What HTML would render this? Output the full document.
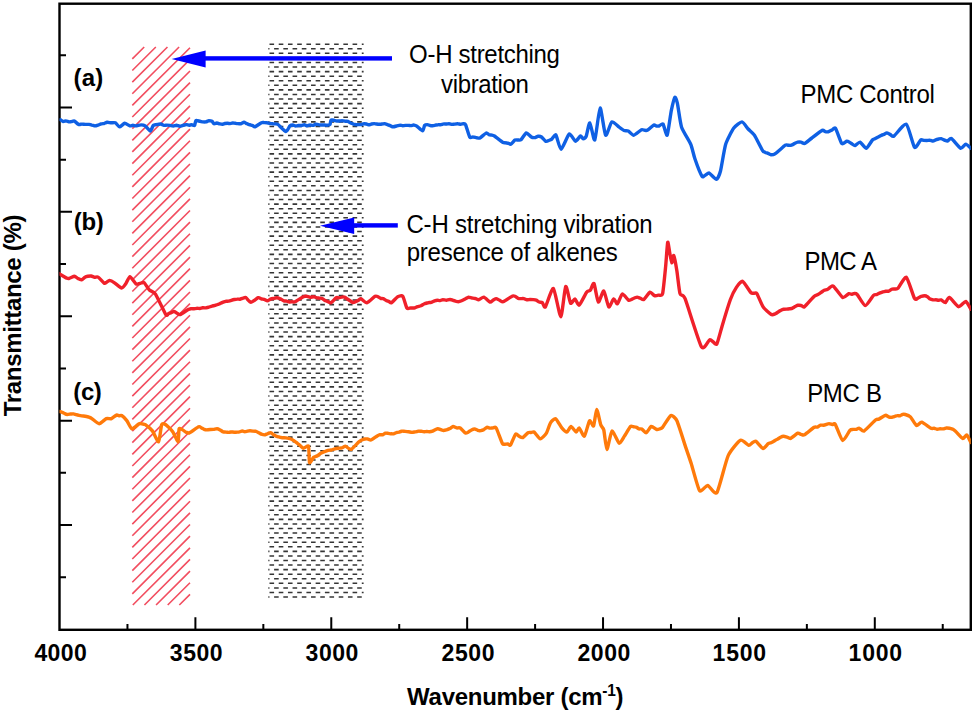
<!DOCTYPE html>
<html><head><meta charset="utf-8"><style>
html,body{margin:0;padding:0;background:#fff;width:975px;height:713px;overflow:hidden}
svg{display:block}
text{font-family:"Liberation Sans", sans-serif;fill:#000}
</style></head><body>
<svg width="975" height="713" viewBox="0 0 975 713">
<path d="M132.30 58.90L144.20 47.00M132.30 70.53L155.83 47.00M132.30 82.16L167.46 47.00M132.30 93.79L179.09 47.00M132.30 105.42L190.00 47.72M132.30 117.05L190.00 59.35M132.30 128.68L190.00 70.98M132.30 140.31L190.00 82.61M132.30 151.94L190.00 94.24M132.30 163.57L190.00 105.87M132.30 175.20L190.00 117.50M132.30 186.83L190.00 129.13M132.30 198.46L190.00 140.76M132.30 210.09L190.00 152.39M132.30 221.72L190.00 164.02M132.30 233.35L190.00 175.65M132.30 244.98L190.00 187.28M132.30 256.61L190.00 198.91M132.30 268.24L190.00 210.54M132.30 279.87L190.00 222.17M132.30 291.50L190.00 233.80M132.30 303.13L190.00 245.43M132.30 314.76L190.00 257.06M132.30 326.39L190.00 268.69M132.30 338.02L190.00 280.32M132.30 349.65L190.00 291.95M132.30 361.28L190.00 303.58M132.30 372.91L190.00 315.21M132.30 384.54L190.00 326.84M132.30 396.17L190.00 338.47M132.30 407.80L190.00 350.10M132.30 419.43L190.00 361.73M132.30 431.06L190.00 373.36M132.30 442.69L190.00 384.99M132.30 454.32L190.00 396.62M132.30 465.95L190.00 408.25M132.30 477.58L190.00 419.88M132.30 489.21L190.00 431.51M132.30 500.84L190.00 443.14M132.30 512.47L190.00 454.77M132.30 524.10L190.00 466.40M132.30 535.73L190.00 478.03M132.30 547.36L190.00 489.66M132.30 558.99L190.00 501.29M132.30 570.62L190.00 512.92M132.30 582.25L190.00 524.55M132.30 593.88L190.00 536.18M132.81 605.00L190.00 547.81M144.44 605.00L190.00 559.44M156.07 605.00L190.00 571.07M167.70 605.00L190.00 582.70M179.33 605.00L190.00 594.33" stroke="#f24e60" stroke-width="1.6" fill="none"/>
<path d="M269.50 44.20H274.10M278.73 44.20H283.33M287.96 44.20H292.56M297.19 44.20H301.79M306.42 44.20H311.02M315.65 44.20H320.25M324.88 44.20H329.48M334.11 44.20H338.71M343.34 44.20H347.94M352.57 44.20H357.17M361.80 44.20H363.60M268.30 48.77H269.47M274.10 48.77H278.70M283.33 48.77H287.93M292.56 48.77H297.16M301.79 48.77H306.39M311.02 48.77H315.62M320.25 48.77H324.85M329.48 48.77H334.08M338.71 48.77H343.31M347.94 48.77H352.54M357.17 48.77H361.77M269.50 53.34H274.10M278.73 53.34H283.33M287.96 53.34H292.56M297.19 53.34H301.79M306.42 53.34H311.02M315.65 53.34H320.25M324.88 53.34H329.48M334.11 53.34H338.71M343.34 53.34H347.94M352.57 53.34H357.17M361.80 53.34H363.60M268.30 57.91H269.47M274.10 57.91H278.70M283.33 57.91H287.93M292.56 57.91H297.16M301.79 57.91H306.39M311.02 57.91H315.62M320.25 57.91H324.85M329.48 57.91H334.08M338.71 57.91H343.31M347.94 57.91H352.54M357.17 57.91H361.77M269.50 62.48H274.10M278.73 62.48H283.33M287.96 62.48H292.56M297.19 62.48H301.79M306.42 62.48H311.02M315.65 62.48H320.25M324.88 62.48H329.48M334.11 62.48H338.71M343.34 62.48H347.94M352.57 62.48H357.17M361.80 62.48H363.60M268.30 67.05H269.47M274.10 67.05H278.70M283.33 67.05H287.93M292.56 67.05H297.16M301.79 67.05H306.39M311.02 67.05H315.62M320.25 67.05H324.85M329.48 67.05H334.08M338.71 67.05H343.31M347.94 67.05H352.54M357.17 67.05H361.77M269.50 71.61H274.10M278.73 71.61H283.33M287.96 71.61H292.56M297.19 71.61H301.79M306.42 71.61H311.02M315.65 71.61H320.25M324.88 71.61H329.48M334.11 71.61H338.71M343.34 71.61H347.94M352.57 71.61H357.17M361.80 71.61H363.60M268.30 76.18H269.47M274.10 76.18H278.70M283.33 76.18H287.93M292.56 76.18H297.16M301.79 76.18H306.39M311.02 76.18H315.62M320.25 76.18H324.85M329.48 76.18H334.08M338.71 76.18H343.31M347.94 76.18H352.54M357.17 76.18H361.77M269.50 80.75H274.10M278.73 80.75H283.33M287.96 80.75H292.56M297.19 80.75H301.79M306.42 80.75H311.02M315.65 80.75H320.25M324.88 80.75H329.48M334.11 80.75H338.71M343.34 80.75H347.94M352.57 80.75H357.17M361.80 80.75H363.60M268.30 85.32H269.47M274.10 85.32H278.70M283.33 85.32H287.93M292.56 85.32H297.16M301.79 85.32H306.39M311.02 85.32H315.62M320.25 85.32H324.85M329.48 85.32H334.08M338.71 85.32H343.31M347.94 85.32H352.54M357.17 85.32H361.77M269.50 89.89H274.10M278.73 89.89H283.33M287.96 89.89H292.56M297.19 89.89H301.79M306.42 89.89H311.02M315.65 89.89H320.25M324.88 89.89H329.48M334.11 89.89H338.71M343.34 89.89H347.94M352.57 89.89H357.17M361.80 89.89H363.60M268.30 94.46H269.47M274.10 94.46H278.70M283.33 94.46H287.93M292.56 94.46H297.16M301.79 94.46H306.39M311.02 94.46H315.62M320.25 94.46H324.85M329.48 94.46H334.08M338.71 94.46H343.31M347.94 94.46H352.54M357.17 94.46H361.77M269.50 99.03H274.10M278.73 99.03H283.33M287.96 99.03H292.56M297.19 99.03H301.79M306.42 99.03H311.02M315.65 99.03H320.25M324.88 99.03H329.48M334.11 99.03H338.71M343.34 99.03H347.94M352.57 99.03H357.17M361.80 99.03H363.60M268.30 103.60H269.47M274.10 103.60H278.70M283.33 103.60H287.93M292.56 103.60H297.16M301.79 103.60H306.39M311.02 103.60H315.62M320.25 103.60H324.85M329.48 103.60H334.08M338.71 103.60H343.31M347.94 103.60H352.54M357.17 103.60H361.77M269.50 108.17H274.10M278.73 108.17H283.33M287.96 108.17H292.56M297.19 108.17H301.79M306.42 108.17H311.02M315.65 108.17H320.25M324.88 108.17H329.48M334.11 108.17H338.71M343.34 108.17H347.94M352.57 108.17H357.17M361.80 108.17H363.60M268.30 112.73H269.47M274.10 112.73H278.70M283.33 112.73H287.93M292.56 112.73H297.16M301.79 112.73H306.39M311.02 112.73H315.62M320.25 112.73H324.85M329.48 112.73H334.08M338.71 112.73H343.31M347.94 112.73H352.54M357.17 112.73H361.77M269.50 117.30H274.10M278.73 117.30H283.33M287.96 117.30H292.56M297.19 117.30H301.79M306.42 117.30H311.02M315.65 117.30H320.25M324.88 117.30H329.48M334.11 117.30H338.71M343.34 117.30H347.94M352.57 117.30H357.17M361.80 117.30H363.60M268.30 121.87H269.47M274.10 121.87H278.70M283.33 121.87H287.93M292.56 121.87H297.16M301.79 121.87H306.39M311.02 121.87H315.62M320.25 121.87H324.85M329.48 121.87H334.08M338.71 121.87H343.31M347.94 121.87H352.54M357.17 121.87H361.77M269.50 126.44H274.10M278.73 126.44H283.33M287.96 126.44H292.56M297.19 126.44H301.79M306.42 126.44H311.02M315.65 126.44H320.25M324.88 126.44H329.48M334.11 126.44H338.71M343.34 126.44H347.94M352.57 126.44H357.17M361.80 126.44H363.60M268.30 131.01H269.47M274.10 131.01H278.70M283.33 131.01H287.93M292.56 131.01H297.16M301.79 131.01H306.39M311.02 131.01H315.62M320.25 131.01H324.85M329.48 131.01H334.08M338.71 131.01H343.31M347.94 131.01H352.54M357.17 131.01H361.77M269.50 135.58H274.10M278.73 135.58H283.33M287.96 135.58H292.56M297.19 135.58H301.79M306.42 135.58H311.02M315.65 135.58H320.25M324.88 135.58H329.48M334.11 135.58H338.71M343.34 135.58H347.94M352.57 135.58H357.17M361.80 135.58H363.60M268.30 140.15H269.47M274.10 140.15H278.70M283.33 140.15H287.93M292.56 140.15H297.16M301.79 140.15H306.39M311.02 140.15H315.62M320.25 140.15H324.85M329.48 140.15H334.08M338.71 140.15H343.31M347.94 140.15H352.54M357.17 140.15H361.77M269.50 144.72H274.10M278.73 144.72H283.33M287.96 144.72H292.56M297.19 144.72H301.79M306.42 144.72H311.02M315.65 144.72H320.25M324.88 144.72H329.48M334.11 144.72H338.71M343.34 144.72H347.94M352.57 144.72H357.17M361.80 144.72H363.60M268.30 149.29H269.47M274.10 149.29H278.70M283.33 149.29H287.93M292.56 149.29H297.16M301.79 149.29H306.39M311.02 149.29H315.62M320.25 149.29H324.85M329.48 149.29H334.08M338.71 149.29H343.31M347.94 149.29H352.54M357.17 149.29H361.77M269.50 153.86H274.10M278.73 153.86H283.33M287.96 153.86H292.56M297.19 153.86H301.79M306.42 153.86H311.02M315.65 153.86H320.25M324.88 153.86H329.48M334.11 153.86H338.71M343.34 153.86H347.94M352.57 153.86H357.17M361.80 153.86H363.60M268.30 158.43H269.47M274.10 158.43H278.70M283.33 158.43H287.93M292.56 158.43H297.16M301.79 158.43H306.39M311.02 158.43H315.62M320.25 158.43H324.85M329.48 158.43H334.08M338.71 158.43H343.31M347.94 158.43H352.54M357.17 158.43H361.77M269.50 162.99H274.10M278.73 162.99H283.33M287.96 162.99H292.56M297.19 162.99H301.79M306.42 162.99H311.02M315.65 162.99H320.25M324.88 162.99H329.48M334.11 162.99H338.71M343.34 162.99H347.94M352.57 162.99H357.17M361.80 162.99H363.60M268.30 167.56H269.47M274.10 167.56H278.70M283.33 167.56H287.93M292.56 167.56H297.16M301.79 167.56H306.39M311.02 167.56H315.62M320.25 167.56H324.85M329.48 167.56H334.08M338.71 167.56H343.31M347.94 167.56H352.54M357.17 167.56H361.77M269.50 172.13H274.10M278.73 172.13H283.33M287.96 172.13H292.56M297.19 172.13H301.79M306.42 172.13H311.02M315.65 172.13H320.25M324.88 172.13H329.48M334.11 172.13H338.71M343.34 172.13H347.94M352.57 172.13H357.17M361.80 172.13H363.60M268.30 176.70H269.47M274.10 176.70H278.70M283.33 176.70H287.93M292.56 176.70H297.16M301.79 176.70H306.39M311.02 176.70H315.62M320.25 176.70H324.85M329.48 176.70H334.08M338.71 176.70H343.31M347.94 176.70H352.54M357.17 176.70H361.77M269.50 181.27H274.10M278.73 181.27H283.33M287.96 181.27H292.56M297.19 181.27H301.79M306.42 181.27H311.02M315.65 181.27H320.25M324.88 181.27H329.48M334.11 181.27H338.71M343.34 181.27H347.94M352.57 181.27H357.17M361.80 181.27H363.60M268.30 185.84H269.47M274.10 185.84H278.70M283.33 185.84H287.93M292.56 185.84H297.16M301.79 185.84H306.39M311.02 185.84H315.62M320.25 185.84H324.85M329.48 185.84H334.08M338.71 185.84H343.31M347.94 185.84H352.54M357.17 185.84H361.77M269.50 190.41H274.10M278.73 190.41H283.33M287.96 190.41H292.56M297.19 190.41H301.79M306.42 190.41H311.02M315.65 190.41H320.25M324.88 190.41H329.48M334.11 190.41H338.71M343.34 190.41H347.94M352.57 190.41H357.17M361.80 190.41H363.60M268.30 194.98H269.47M274.10 194.98H278.70M283.33 194.98H287.93M292.56 194.98H297.16M301.79 194.98H306.39M311.02 194.98H315.62M320.25 194.98H324.85M329.48 194.98H334.08M338.71 194.98H343.31M347.94 194.98H352.54M357.17 194.98H361.77M269.50 199.55H274.10M278.73 199.55H283.33M287.96 199.55H292.56M297.19 199.55H301.79M306.42 199.55H311.02M315.65 199.55H320.25M324.88 199.55H329.48M334.11 199.55H338.71M343.34 199.55H347.94M352.57 199.55H357.17M361.80 199.55H363.60M268.30 204.12H269.47M274.10 204.12H278.70M283.33 204.12H287.93M292.56 204.12H297.16M301.79 204.12H306.39M311.02 204.12H315.62M320.25 204.12H324.85M329.48 204.12H334.08M338.71 204.12H343.31M347.94 204.12H352.54M357.17 204.12H361.77M269.50 208.68H274.10M278.73 208.68H283.33M287.96 208.68H292.56M297.19 208.68H301.79M306.42 208.68H311.02M315.65 208.68H320.25M324.88 208.68H329.48M334.11 208.68H338.71M343.34 208.68H347.94M352.57 208.68H357.17M361.80 208.68H363.60M268.30 213.25H269.47M274.10 213.25H278.70M283.33 213.25H287.93M292.56 213.25H297.16M301.79 213.25H306.39M311.02 213.25H315.62M320.25 213.25H324.85M329.48 213.25H334.08M338.71 213.25H343.31M347.94 213.25H352.54M357.17 213.25H361.77M269.50 217.82H274.10M278.73 217.82H283.33M287.96 217.82H292.56M297.19 217.82H301.79M306.42 217.82H311.02M315.65 217.82H320.25M324.88 217.82H329.48M334.11 217.82H338.71M343.34 217.82H347.94M352.57 217.82H357.17M361.80 217.82H363.60M268.30 222.39H269.47M274.10 222.39H278.70M283.33 222.39H287.93M292.56 222.39H297.16M301.79 222.39H306.39M311.02 222.39H315.62M320.25 222.39H324.85M329.48 222.39H334.08M338.71 222.39H343.31M347.94 222.39H352.54M357.17 222.39H361.77M269.50 226.96H274.10M278.73 226.96H283.33M287.96 226.96H292.56M297.19 226.96H301.79M306.42 226.96H311.02M315.65 226.96H320.25M324.88 226.96H329.48M334.11 226.96H338.71M343.34 226.96H347.94M352.57 226.96H357.17M361.80 226.96H363.60M268.30 231.53H269.47M274.10 231.53H278.70M283.33 231.53H287.93M292.56 231.53H297.16M301.79 231.53H306.39M311.02 231.53H315.62M320.25 231.53H324.85M329.48 231.53H334.08M338.71 231.53H343.31M347.94 231.53H352.54M357.17 231.53H361.77M269.50 236.10H274.10M278.73 236.10H283.33M287.96 236.10H292.56M297.19 236.10H301.79M306.42 236.10H311.02M315.65 236.10H320.25M324.88 236.10H329.48M334.11 236.10H338.71M343.34 236.10H347.94M352.57 236.10H357.17M361.80 236.10H363.60M268.30 240.67H269.47M274.10 240.67H278.70M283.33 240.67H287.93M292.56 240.67H297.16M301.79 240.67H306.39M311.02 240.67H315.62M320.25 240.67H324.85M329.48 240.67H334.08M338.71 240.67H343.31M347.94 240.67H352.54M357.17 240.67H361.77M269.50 245.24H274.10M278.73 245.24H283.33M287.96 245.24H292.56M297.19 245.24H301.79M306.42 245.24H311.02M315.65 245.24H320.25M324.88 245.24H329.48M334.11 245.24H338.71M343.34 245.24H347.94M352.57 245.24H357.17M361.80 245.24H363.60M268.30 249.81H269.47M274.10 249.81H278.70M283.33 249.81H287.93M292.56 249.81H297.16M301.79 249.81H306.39M311.02 249.81H315.62M320.25 249.81H324.85M329.48 249.81H334.08M338.71 249.81H343.31M347.94 249.81H352.54M357.17 249.81H361.77M269.50 254.37H274.10M278.73 254.37H283.33M287.96 254.37H292.56M297.19 254.37H301.79M306.42 254.37H311.02M315.65 254.37H320.25M324.88 254.37H329.48M334.11 254.37H338.71M343.34 254.37H347.94M352.57 254.37H357.17M361.80 254.37H363.60M268.30 258.94H269.47M274.10 258.94H278.70M283.33 258.94H287.93M292.56 258.94H297.16M301.79 258.94H306.39M311.02 258.94H315.62M320.25 258.94H324.85M329.48 258.94H334.08M338.71 258.94H343.31M347.94 258.94H352.54M357.17 258.94H361.77M269.50 263.51H274.10M278.73 263.51H283.33M287.96 263.51H292.56M297.19 263.51H301.79M306.42 263.51H311.02M315.65 263.51H320.25M324.88 263.51H329.48M334.11 263.51H338.71M343.34 263.51H347.94M352.57 263.51H357.17M361.80 263.51H363.60M268.30 268.08H269.47M274.10 268.08H278.70M283.33 268.08H287.93M292.56 268.08H297.16M301.79 268.08H306.39M311.02 268.08H315.62M320.25 268.08H324.85M329.48 268.08H334.08M338.71 268.08H343.31M347.94 268.08H352.54M357.17 268.08H361.77M269.50 272.65H274.10M278.73 272.65H283.33M287.96 272.65H292.56M297.19 272.65H301.79M306.42 272.65H311.02M315.65 272.65H320.25M324.88 272.65H329.48M334.11 272.65H338.71M343.34 272.65H347.94M352.57 272.65H357.17M361.80 272.65H363.60M268.30 277.22H269.47M274.10 277.22H278.70M283.33 277.22H287.93M292.56 277.22H297.16M301.79 277.22H306.39M311.02 277.22H315.62M320.25 277.22H324.85M329.48 277.22H334.08M338.71 277.22H343.31M347.94 277.22H352.54M357.17 277.22H361.77M269.50 281.79H274.10M278.73 281.79H283.33M287.96 281.79H292.56M297.19 281.79H301.79M306.42 281.79H311.02M315.65 281.79H320.25M324.88 281.79H329.48M334.11 281.79H338.71M343.34 281.79H347.94M352.57 281.79H357.17M361.80 281.79H363.60M268.30 286.36H269.47M274.10 286.36H278.70M283.33 286.36H287.93M292.56 286.36H297.16M301.79 286.36H306.39M311.02 286.36H315.62M320.25 286.36H324.85M329.48 286.36H334.08M338.71 286.36H343.31M347.94 286.36H352.54M357.17 286.36H361.77M269.50 290.93H274.10M278.73 290.93H283.33M287.96 290.93H292.56M297.19 290.93H301.79M306.42 290.93H311.02M315.65 290.93H320.25M324.88 290.93H329.48M334.11 290.93H338.71M343.34 290.93H347.94M352.57 290.93H357.17M361.80 290.93H363.60M268.30 295.50H269.47M274.10 295.50H278.70M283.33 295.50H287.93M292.56 295.50H297.16M301.79 295.50H306.39M311.02 295.50H315.62M320.25 295.50H324.85M329.48 295.50H334.08M338.71 295.50H343.31M347.94 295.50H352.54M357.17 295.50H361.77M269.50 300.06H274.10M278.73 300.06H283.33M287.96 300.06H292.56M297.19 300.06H301.79M306.42 300.06H311.02M315.65 300.06H320.25M324.88 300.06H329.48M334.11 300.06H338.71M343.34 300.06H347.94M352.57 300.06H357.17M361.80 300.06H363.60M268.30 304.63H269.47M274.10 304.63H278.70M283.33 304.63H287.93M292.56 304.63H297.16M301.79 304.63H306.39M311.02 304.63H315.62M320.25 304.63H324.85M329.48 304.63H334.08M338.71 304.63H343.31M347.94 304.63H352.54M357.17 304.63H361.77M269.50 309.20H274.10M278.73 309.20H283.33M287.96 309.20H292.56M297.19 309.20H301.79M306.42 309.20H311.02M315.65 309.20H320.25M324.88 309.20H329.48M334.11 309.20H338.71M343.34 309.20H347.94M352.57 309.20H357.17M361.80 309.20H363.60M268.30 313.77H269.47M274.10 313.77H278.70M283.33 313.77H287.93M292.56 313.77H297.16M301.79 313.77H306.39M311.02 313.77H315.62M320.25 313.77H324.85M329.48 313.77H334.08M338.71 313.77H343.31M347.94 313.77H352.54M357.17 313.77H361.77M269.50 318.34H274.10M278.73 318.34H283.33M287.96 318.34H292.56M297.19 318.34H301.79M306.42 318.34H311.02M315.65 318.34H320.25M324.88 318.34H329.48M334.11 318.34H338.71M343.34 318.34H347.94M352.57 318.34H357.17M361.80 318.34H363.60M268.30 322.91H269.47M274.10 322.91H278.70M283.33 322.91H287.93M292.56 322.91H297.16M301.79 322.91H306.39M311.02 322.91H315.62M320.25 322.91H324.85M329.48 322.91H334.08M338.71 322.91H343.31M347.94 322.91H352.54M357.17 322.91H361.77M269.50 327.48H274.10M278.73 327.48H283.33M287.96 327.48H292.56M297.19 327.48H301.79M306.42 327.48H311.02M315.65 327.48H320.25M324.88 327.48H329.48M334.11 327.48H338.71M343.34 327.48H347.94M352.57 327.48H357.17M361.80 327.48H363.60M268.30 332.05H269.47M274.10 332.05H278.70M283.33 332.05H287.93M292.56 332.05H297.16M301.79 332.05H306.39M311.02 332.05H315.62M320.25 332.05H324.85M329.48 332.05H334.08M338.71 332.05H343.31M347.94 332.05H352.54M357.17 332.05H361.77M269.50 336.62H274.10M278.73 336.62H283.33M287.96 336.62H292.56M297.19 336.62H301.79M306.42 336.62H311.02M315.65 336.62H320.25M324.88 336.62H329.48M334.11 336.62H338.71M343.34 336.62H347.94M352.57 336.62H357.17M361.80 336.62H363.60M268.30 341.19H269.47M274.10 341.19H278.70M283.33 341.19H287.93M292.56 341.19H297.16M301.79 341.19H306.39M311.02 341.19H315.62M320.25 341.19H324.85M329.48 341.19H334.08M338.71 341.19H343.31M347.94 341.19H352.54M357.17 341.19H361.77M269.50 345.75H274.10M278.73 345.75H283.33M287.96 345.75H292.56M297.19 345.75H301.79M306.42 345.75H311.02M315.65 345.75H320.25M324.88 345.75H329.48M334.11 345.75H338.71M343.34 345.75H347.94M352.57 345.75H357.17M361.80 345.75H363.60M268.30 350.32H269.47M274.10 350.32H278.70M283.33 350.32H287.93M292.56 350.32H297.16M301.79 350.32H306.39M311.02 350.32H315.62M320.25 350.32H324.85M329.48 350.32H334.08M338.71 350.32H343.31M347.94 350.32H352.54M357.17 350.32H361.77M269.50 354.89H274.10M278.73 354.89H283.33M287.96 354.89H292.56M297.19 354.89H301.79M306.42 354.89H311.02M315.65 354.89H320.25M324.88 354.89H329.48M334.11 354.89H338.71M343.34 354.89H347.94M352.57 354.89H357.17M361.80 354.89H363.60M268.30 359.46H269.47M274.10 359.46H278.70M283.33 359.46H287.93M292.56 359.46H297.16M301.79 359.46H306.39M311.02 359.46H315.62M320.25 359.46H324.85M329.48 359.46H334.08M338.71 359.46H343.31M347.94 359.46H352.54M357.17 359.46H361.77M269.50 364.03H274.10M278.73 364.03H283.33M287.96 364.03H292.56M297.19 364.03H301.79M306.42 364.03H311.02M315.65 364.03H320.25M324.88 364.03H329.48M334.11 364.03H338.71M343.34 364.03H347.94M352.57 364.03H357.17M361.80 364.03H363.60M268.30 368.60H269.47M274.10 368.60H278.70M283.33 368.60H287.93M292.56 368.60H297.16M301.79 368.60H306.39M311.02 368.60H315.62M320.25 368.60H324.85M329.48 368.60H334.08M338.71 368.60H343.31M347.94 368.60H352.54M357.17 368.60H361.77M269.50 373.17H274.10M278.73 373.17H283.33M287.96 373.17H292.56M297.19 373.17H301.79M306.42 373.17H311.02M315.65 373.17H320.25M324.88 373.17H329.48M334.11 373.17H338.71M343.34 373.17H347.94M352.57 373.17H357.17M361.80 373.17H363.60M268.30 377.74H269.47M274.10 377.74H278.70M283.33 377.74H287.93M292.56 377.74H297.16M301.79 377.74H306.39M311.02 377.74H315.62M320.25 377.74H324.85M329.48 377.74H334.08M338.71 377.74H343.31M347.94 377.74H352.54M357.17 377.74H361.77M269.50 382.31H274.10M278.73 382.31H283.33M287.96 382.31H292.56M297.19 382.31H301.79M306.42 382.31H311.02M315.65 382.31H320.25M324.88 382.31H329.48M334.11 382.31H338.71M343.34 382.31H347.94M352.57 382.31H357.17M361.80 382.31H363.60M268.30 386.88H269.47M274.10 386.88H278.70M283.33 386.88H287.93M292.56 386.88H297.16M301.79 386.88H306.39M311.02 386.88H315.62M320.25 386.88H324.85M329.48 386.88H334.08M338.71 386.88H343.31M347.94 386.88H352.54M357.17 386.88H361.77M269.50 391.44H274.10M278.73 391.44H283.33M287.96 391.44H292.56M297.19 391.44H301.79M306.42 391.44H311.02M315.65 391.44H320.25M324.88 391.44H329.48M334.11 391.44H338.71M343.34 391.44H347.94M352.57 391.44H357.17M361.80 391.44H363.60M268.30 396.01H269.47M274.10 396.01H278.70M283.33 396.01H287.93M292.56 396.01H297.16M301.79 396.01H306.39M311.02 396.01H315.62M320.25 396.01H324.85M329.48 396.01H334.08M338.71 396.01H343.31M347.94 396.01H352.54M357.17 396.01H361.77M269.50 400.58H274.10M278.73 400.58H283.33M287.96 400.58H292.56M297.19 400.58H301.79M306.42 400.58H311.02M315.65 400.58H320.25M324.88 400.58H329.48M334.11 400.58H338.71M343.34 400.58H347.94M352.57 400.58H357.17M361.80 400.58H363.60M268.30 405.15H269.47M274.10 405.15H278.70M283.33 405.15H287.93M292.56 405.15H297.16M301.79 405.15H306.39M311.02 405.15H315.62M320.25 405.15H324.85M329.48 405.15H334.08M338.71 405.15H343.31M347.94 405.15H352.54M357.17 405.15H361.77M269.50 409.72H274.10M278.73 409.72H283.33M287.96 409.72H292.56M297.19 409.72H301.79M306.42 409.72H311.02M315.65 409.72H320.25M324.88 409.72H329.48M334.11 409.72H338.71M343.34 409.72H347.94M352.57 409.72H357.17M361.80 409.72H363.60M268.30 414.29H269.47M274.10 414.29H278.70M283.33 414.29H287.93M292.56 414.29H297.16M301.79 414.29H306.39M311.02 414.29H315.62M320.25 414.29H324.85M329.48 414.29H334.08M338.71 414.29H343.31M347.94 414.29H352.54M357.17 414.29H361.77M269.50 418.86H274.10M278.73 418.86H283.33M287.96 418.86H292.56M297.19 418.86H301.79M306.42 418.86H311.02M315.65 418.86H320.25M324.88 418.86H329.48M334.11 418.86H338.71M343.34 418.86H347.94M352.57 418.86H357.17M361.80 418.86H363.60M268.30 423.43H269.47M274.10 423.43H278.70M283.33 423.43H287.93M292.56 423.43H297.16M301.79 423.43H306.39M311.02 423.43H315.62M320.25 423.43H324.85M329.48 423.43H334.08M338.71 423.43H343.31M347.94 423.43H352.54M357.17 423.43H361.77M269.50 428.00H274.10M278.73 428.00H283.33M287.96 428.00H292.56M297.19 428.00H301.79M306.42 428.00H311.02M315.65 428.00H320.25M324.88 428.00H329.48M334.11 428.00H338.71M343.34 428.00H347.94M352.57 428.00H357.17M361.80 428.00H363.60M268.30 432.56H269.47M274.10 432.56H278.70M283.33 432.56H287.93M292.56 432.56H297.16M301.79 432.56H306.39M311.02 432.56H315.62M320.25 432.56H324.85M329.48 432.56H334.08M338.71 432.56H343.31M347.94 432.56H352.54M357.17 432.56H361.77M269.50 437.13H274.10M278.73 437.13H283.33M287.96 437.13H292.56M297.19 437.13H301.79M306.42 437.13H311.02M315.65 437.13H320.25M324.88 437.13H329.48M334.11 437.13H338.71M343.34 437.13H347.94M352.57 437.13H357.17M361.80 437.13H363.60M268.30 441.70H269.47M274.10 441.70H278.70M283.33 441.70H287.93M292.56 441.70H297.16M301.79 441.70H306.39M311.02 441.70H315.62M320.25 441.70H324.85M329.48 441.70H334.08M338.71 441.70H343.31M347.94 441.70H352.54M357.17 441.70H361.77M269.50 446.27H274.10M278.73 446.27H283.33M287.96 446.27H292.56M297.19 446.27H301.79M306.42 446.27H311.02M315.65 446.27H320.25M324.88 446.27H329.48M334.11 446.27H338.71M343.34 446.27H347.94M352.57 446.27H357.17M361.80 446.27H363.60M268.30 450.84H269.47M274.10 450.84H278.70M283.33 450.84H287.93M292.56 450.84H297.16M301.79 450.84H306.39M311.02 450.84H315.62M320.25 450.84H324.85M329.48 450.84H334.08M338.71 450.84H343.31M347.94 450.84H352.54M357.17 450.84H361.77M269.50 455.41H274.10M278.73 455.41H283.33M287.96 455.41H292.56M297.19 455.41H301.79M306.42 455.41H311.02M315.65 455.41H320.25M324.88 455.41H329.48M334.11 455.41H338.71M343.34 455.41H347.94M352.57 455.41H357.17M361.80 455.41H363.60M268.30 459.98H269.47M274.10 459.98H278.70M283.33 459.98H287.93M292.56 459.98H297.16M301.79 459.98H306.39M311.02 459.98H315.62M320.25 459.98H324.85M329.48 459.98H334.08M338.71 459.98H343.31M347.94 459.98H352.54M357.17 459.98H361.77M269.50 464.55H274.10M278.73 464.55H283.33M287.96 464.55H292.56M297.19 464.55H301.79M306.42 464.55H311.02M315.65 464.55H320.25M324.88 464.55H329.48M334.11 464.55H338.71M343.34 464.55H347.94M352.57 464.55H357.17M361.80 464.55H363.60M268.30 469.12H269.47M274.10 469.12H278.70M283.33 469.12H287.93M292.56 469.12H297.16M301.79 469.12H306.39M311.02 469.12H315.62M320.25 469.12H324.85M329.48 469.12H334.08M338.71 469.12H343.31M347.94 469.12H352.54M357.17 469.12H361.77M269.50 473.69H274.10M278.73 473.69H283.33M287.96 473.69H292.56M297.19 473.69H301.79M306.42 473.69H311.02M315.65 473.69H320.25M324.88 473.69H329.48M334.11 473.69H338.71M343.34 473.69H347.94M352.57 473.69H357.17M361.80 473.69H363.60M268.30 478.25H269.47M274.10 478.25H278.70M283.33 478.25H287.93M292.56 478.25H297.16M301.79 478.25H306.39M311.02 478.25H315.62M320.25 478.25H324.85M329.48 478.25H334.08M338.71 478.25H343.31M347.94 478.25H352.54M357.17 478.25H361.77M269.50 482.82H274.10M278.73 482.82H283.33M287.96 482.82H292.56M297.19 482.82H301.79M306.42 482.82H311.02M315.65 482.82H320.25M324.88 482.82H329.48M334.11 482.82H338.71M343.34 482.82H347.94M352.57 482.82H357.17M361.80 482.82H363.60M268.30 487.39H269.47M274.10 487.39H278.70M283.33 487.39H287.93M292.56 487.39H297.16M301.79 487.39H306.39M311.02 487.39H315.62M320.25 487.39H324.85M329.48 487.39H334.08M338.71 487.39H343.31M347.94 487.39H352.54M357.17 487.39H361.77M269.50 491.96H274.10M278.73 491.96H283.33M287.96 491.96H292.56M297.19 491.96H301.79M306.42 491.96H311.02M315.65 491.96H320.25M324.88 491.96H329.48M334.11 491.96H338.71M343.34 491.96H347.94M352.57 491.96H357.17M361.80 491.96H363.60M268.30 496.53H269.47M274.10 496.53H278.70M283.33 496.53H287.93M292.56 496.53H297.16M301.79 496.53H306.39M311.02 496.53H315.62M320.25 496.53H324.85M329.48 496.53H334.08M338.71 496.53H343.31M347.94 496.53H352.54M357.17 496.53H361.77M269.50 501.10H274.10M278.73 501.10H283.33M287.96 501.10H292.56M297.19 501.10H301.79M306.42 501.10H311.02M315.65 501.10H320.25M324.88 501.10H329.48M334.11 501.10H338.71M343.34 501.10H347.94M352.57 501.10H357.17M361.80 501.10H363.60M268.30 505.67H269.47M274.10 505.67H278.70M283.33 505.67H287.93M292.56 505.67H297.16M301.79 505.67H306.39M311.02 505.67H315.62M320.25 505.67H324.85M329.48 505.67H334.08M338.71 505.67H343.31M347.94 505.67H352.54M357.17 505.67H361.77M269.50 510.24H274.10M278.73 510.24H283.33M287.96 510.24H292.56M297.19 510.24H301.79M306.42 510.24H311.02M315.65 510.24H320.25M324.88 510.24H329.48M334.11 510.24H338.71M343.34 510.24H347.94M352.57 510.24H357.17M361.80 510.24H363.60M268.30 514.81H269.47M274.10 514.81H278.70M283.33 514.81H287.93M292.56 514.81H297.16M301.79 514.81H306.39M311.02 514.81H315.62M320.25 514.81H324.85M329.48 514.81H334.08M338.71 514.81H343.31M347.94 514.81H352.54M357.17 514.81H361.77M269.50 519.38H274.10M278.73 519.38H283.33M287.96 519.38H292.56M297.19 519.38H301.79M306.42 519.38H311.02M315.65 519.38H320.25M324.88 519.38H329.48M334.11 519.38H338.71M343.34 519.38H347.94M352.57 519.38H357.17M361.80 519.38H363.60M268.30 523.95H269.47M274.10 523.95H278.70M283.33 523.95H287.93M292.56 523.95H297.16M301.79 523.95H306.39M311.02 523.95H315.62M320.25 523.95H324.85M329.48 523.95H334.08M338.71 523.95H343.31M347.94 523.95H352.54M357.17 523.95H361.77M269.50 528.51H274.10M278.73 528.51H283.33M287.96 528.51H292.56M297.19 528.51H301.79M306.42 528.51H311.02M315.65 528.51H320.25M324.88 528.51H329.48M334.11 528.51H338.71M343.34 528.51H347.94M352.57 528.51H357.17M361.80 528.51H363.60M268.30 533.08H269.47M274.10 533.08H278.70M283.33 533.08H287.93M292.56 533.08H297.16M301.79 533.08H306.39M311.02 533.08H315.62M320.25 533.08H324.85M329.48 533.08H334.08M338.71 533.08H343.31M347.94 533.08H352.54M357.17 533.08H361.77M269.50 537.65H274.10M278.73 537.65H283.33M287.96 537.65H292.56M297.19 537.65H301.79M306.42 537.65H311.02M315.65 537.65H320.25M324.88 537.65H329.48M334.11 537.65H338.71M343.34 537.65H347.94M352.57 537.65H357.17M361.80 537.65H363.60M268.30 542.22H269.47M274.10 542.22H278.70M283.33 542.22H287.93M292.56 542.22H297.16M301.79 542.22H306.39M311.02 542.22H315.62M320.25 542.22H324.85M329.48 542.22H334.08M338.71 542.22H343.31M347.94 542.22H352.54M357.17 542.22H361.77M269.50 546.79H274.10M278.73 546.79H283.33M287.96 546.79H292.56M297.19 546.79H301.79M306.42 546.79H311.02M315.65 546.79H320.25M324.88 546.79H329.48M334.11 546.79H338.71M343.34 546.79H347.94M352.57 546.79H357.17M361.80 546.79H363.60M268.30 551.36H269.47M274.10 551.36H278.70M283.33 551.36H287.93M292.56 551.36H297.16M301.79 551.36H306.39M311.02 551.36H315.62M320.25 551.36H324.85M329.48 551.36H334.08M338.71 551.36H343.31M347.94 551.36H352.54M357.17 551.36H361.77M269.50 555.93H274.10M278.73 555.93H283.33M287.96 555.93H292.56M297.19 555.93H301.79M306.42 555.93H311.02M315.65 555.93H320.25M324.88 555.93H329.48M334.11 555.93H338.71M343.34 555.93H347.94M352.57 555.93H357.17M361.80 555.93H363.60M268.30 560.50H269.47M274.10 560.50H278.70M283.33 560.50H287.93M292.56 560.50H297.16M301.79 560.50H306.39M311.02 560.50H315.62M320.25 560.50H324.85M329.48 560.50H334.08M338.71 560.50H343.31M347.94 560.50H352.54M357.17 560.50H361.77M269.50 565.07H274.10M278.73 565.07H283.33M287.96 565.07H292.56M297.19 565.07H301.79M306.42 565.07H311.02M315.65 565.07H320.25M324.88 565.07H329.48M334.11 565.07H338.71M343.34 565.07H347.94M352.57 565.07H357.17M361.80 565.07H363.60M268.30 569.63H269.47M274.10 569.63H278.70M283.33 569.63H287.93M292.56 569.63H297.16M301.79 569.63H306.39M311.02 569.63H315.62M320.25 569.63H324.85M329.48 569.63H334.08M338.71 569.63H343.31M347.94 569.63H352.54M357.17 569.63H361.77M269.50 574.20H274.10M278.73 574.20H283.33M287.96 574.20H292.56M297.19 574.20H301.79M306.42 574.20H311.02M315.65 574.20H320.25M324.88 574.20H329.48M334.11 574.20H338.71M343.34 574.20H347.94M352.57 574.20H357.17M361.80 574.20H363.60M268.30 578.77H269.47M274.10 578.77H278.70M283.33 578.77H287.93M292.56 578.77H297.16M301.79 578.77H306.39M311.02 578.77H315.62M320.25 578.77H324.85M329.48 578.77H334.08M338.71 578.77H343.31M347.94 578.77H352.54M357.17 578.77H361.77M269.50 583.34H274.10M278.73 583.34H283.33M287.96 583.34H292.56M297.19 583.34H301.79M306.42 583.34H311.02M315.65 583.34H320.25M324.88 583.34H329.48M334.11 583.34H338.71M343.34 583.34H347.94M352.57 583.34H357.17M361.80 583.34H363.60M268.30 587.91H269.47M274.10 587.91H278.70M283.33 587.91H287.93M292.56 587.91H297.16M301.79 587.91H306.39M311.02 587.91H315.62M320.25 587.91H324.85M329.48 587.91H334.08M338.71 587.91H343.31M347.94 587.91H352.54M357.17 587.91H361.77M269.50 592.48H274.10M278.73 592.48H283.33M287.96 592.48H292.56M297.19 592.48H301.79M306.42 592.48H311.02M315.65 592.48H320.25M324.88 592.48H329.48M334.11 592.48H338.71M343.34 592.48H347.94M352.57 592.48H357.17M361.80 592.48H363.60M268.30 597.05H269.47M274.10 597.05H278.70M283.33 597.05H287.93M292.56 597.05H297.16M301.79 597.05H306.39M311.02 597.05H315.62M320.25 597.05H324.85M329.48 597.05H334.08M338.71 597.05H343.31M347.94 597.05H352.54M357.17 597.05H361.77" stroke="#363636" stroke-width="1.55" fill="none"/>
<rect x="59.5" y="3.7" width="911.3" height="626.0999999999999" fill="none" stroke="#000" stroke-width="2.4"/>
<path d="M59.5 55.24H66.0M59.5 107.44H72.0M59.5 159.64H66.0M59.5 211.84H72.0M59.5 264.04H66.0M59.5 316.24H72.0M59.5 368.44H66.0M59.5 420.64H72.0M59.5 472.84H66.0M59.5 525.04H72.0M59.5 577.24H66.0M127.46 629.8V624.0M195.40 629.8V617.3M263.34 629.8V624.0M331.28 629.8V617.3M399.22 629.8V624.0M467.16 629.8V617.3M535.10 629.8V624.0M603.04 629.8V617.3M670.98 629.8V624.0M738.92 629.8V617.3M806.86 629.8V624.0M874.80 629.8V617.3M942.74 629.8V624.0" stroke="#000" stroke-width="2" fill="none"/>
<defs><clipPath id="pc"><rect x="59.5" y="0" width="911.3" height="713"/></clipPath></defs><g clip-path="url(#pc)">
<path d="M60.3 119.7C60.6 119.9 62.5 121.4 63.1 121.5C63.7 121.6 65.4 120.9 65.9 120.9C66.5 120.9 68.2 121.7 68.8 121.8C69.3 121.9 71.0 121.6 71.6 121.6C72.1 121.5 73.7 120.8 74.4 121.1C75.1 121.4 77.7 124.1 78.5 124.4C79.3 124.7 81.2 124.1 81.9 124.1C82.6 124.1 84.7 124.4 85.4 124.4C86.1 124.4 88.2 124.3 88.8 124.4C89.4 124.5 91.2 124.9 91.8 125.1C92.5 125.2 94.3 125.9 94.9 125.9C95.5 125.9 97.4 125.3 98.0 125.1C98.6 124.9 100.5 124.0 101.1 123.8C101.7 123.6 103.5 123.6 104.2 123.5C104.8 123.3 106.5 122.4 107.2 122.3C107.9 122.2 110.5 122.8 111.3 122.8C112.1 122.8 114.6 122.4 115.4 122.8C116.2 123.2 118.6 126.9 119.5 126.9C120.4 127.0 123.7 123.4 124.7 123.3C125.7 123.2 129.0 125.7 129.8 125.9C130.6 126.1 132.3 125.3 132.9 125.3C133.5 125.3 135.2 125.9 136.0 125.9C136.8 125.9 140.2 124.9 141.1 124.9C142.0 124.9 144.3 125.3 145.2 125.9C146.1 126.5 149.5 131.1 150.3 131.0C151.1 130.9 152.6 126.1 153.4 125.4C154.2 124.7 157.2 124.5 158.0 124.4C158.8 124.3 160.4 123.9 161.0 124.0C161.6 124.1 163.4 125.3 164.0 125.4C164.6 125.5 166.4 125.1 167.0 125.1C167.6 125.1 169.4 125.3 170.0 125.4C170.6 125.5 172.6 126.1 173.3 126.0C173.9 126.0 175.9 125.2 176.5 125.2C177.2 125.3 179.1 126.2 179.8 126.2C180.5 126.2 182.4 125.5 183.1 125.3C183.8 125.2 185.8 124.6 186.4 124.6C187.0 124.6 188.6 125.2 189.1 125.2C189.7 125.2 191.3 124.7 191.9 124.8C192.4 124.8 194.2 125.8 194.6 125.4C195.0 125.0 195.4 120.9 195.9 120.5C196.4 120.1 199.3 121.2 200.0 121.3C200.7 121.4 202.4 121.9 203.0 121.9C203.6 122.0 205.4 122.0 206.0 121.9C206.6 121.7 208.4 120.7 209.0 120.6C209.6 120.6 211.5 121.0 212.0 121.3C212.5 121.6 213.5 123.5 214.0 123.7C214.5 123.9 216.2 123.0 216.7 123.0C217.2 123.0 218.9 123.6 219.4 123.8C219.9 123.9 221.6 124.3 222.1 124.3C222.6 124.3 224.3 123.6 224.8 123.5C225.3 123.4 227.0 123.3 227.5 123.3C228.0 123.3 229.7 123.6 230.2 123.6C230.7 123.6 232.4 123.1 232.9 123.0C233.4 123.0 235.1 123.3 235.6 123.3C236.1 123.4 237.8 123.6 238.3 123.6C238.8 123.7 240.4 123.8 241.0 123.7C241.6 123.6 243.4 122.3 244.0 122.3C244.6 122.3 246.4 123.5 247.0 123.7C247.6 123.9 249.1 124.6 249.7 124.7C250.2 124.9 251.8 125.2 252.3 125.4C252.9 125.6 254.1 127.1 255.0 126.8C255.9 126.5 260.6 123.1 261.5 122.7C262.4 122.3 263.8 122.6 264.3 122.6C264.9 122.6 266.6 122.7 267.2 122.8C267.7 122.9 269.4 123.4 270.0 123.5C270.6 123.6 272.1 123.7 272.7 123.8C273.2 123.8 274.8 123.8 275.3 123.9C275.9 123.9 276.9 123.7 278.0 124.5C279.1 125.3 284.8 131.4 286.0 131.5C287.2 131.6 289.3 126.4 290.0 125.8C290.7 125.2 292.3 125.0 292.9 125.0C293.4 125.0 295.1 126.0 295.7 126.0C296.3 126.1 298.0 125.6 298.6 125.5C299.1 125.5 300.9 125.6 301.4 125.5C302.0 125.5 303.7 124.8 304.3 124.8C304.9 124.8 306.6 125.8 307.1 125.8C307.7 125.8 309.4 125.0 310.0 125.0C310.6 125.0 312.3 125.5 312.9 125.4C313.4 125.4 315.1 124.4 315.7 124.3C316.3 124.2 318.0 124.5 318.6 124.6C319.1 124.6 320.9 125.0 321.4 125.0C322.0 125.1 323.7 124.9 324.3 124.9C324.9 125.0 326.6 125.2 327.1 125.2C327.7 125.1 329.6 125.0 330.0 124.5C330.4 124.0 330.6 120.6 331.0 120.2C331.4 119.8 333.3 120.2 333.8 120.3C334.4 120.4 336.1 121.0 336.7 121.0C337.2 121.1 338.9 121.0 339.5 121.0C340.1 121.0 341.8 120.6 342.3 120.7C342.9 120.7 344.6 121.2 345.2 121.2C345.7 121.3 347.4 121.1 348.0 121.3C348.6 121.5 350.1 122.7 350.7 123.0C351.2 123.2 352.8 123.9 353.3 124.1C353.9 124.2 355.5 124.6 356.0 124.7C356.5 124.8 358.1 124.6 358.6 124.6C359.1 124.6 360.7 124.7 361.2 124.6C361.7 124.6 363.3 123.8 363.8 123.8C364.3 123.7 365.9 123.9 366.4 124.0C366.9 124.1 368.5 124.7 369.0 124.7C369.5 124.7 371.1 124.1 371.6 124.0C372.1 123.9 373.7 123.6 374.2 123.6C374.7 123.6 376.3 124.0 376.8 124.0C377.3 124.1 378.9 124.2 379.4 124.2C379.9 124.2 381.5 124.1 382.0 124.0C382.5 124.0 384.1 123.6 384.6 123.7C385.1 123.8 386.8 124.4 387.4 124.6C388.0 124.8 389.6 125.5 390.2 125.7C390.8 125.9 392.4 126.8 393.0 126.8C393.6 126.8 395.8 126.2 396.5 126.0C397.2 125.9 399.4 125.2 400.0 125.2C400.6 125.2 402.2 125.7 402.7 125.7C403.3 125.7 404.9 125.5 405.5 125.4C406.0 125.4 407.7 125.3 408.2 125.4C408.7 125.4 410.4 125.6 410.9 125.6C411.5 125.6 413.1 125.0 413.7 125.0C414.2 125.1 415.5 125.2 416.4 125.8C417.3 126.4 421.8 130.9 422.6 130.9C423.4 130.9 424.1 126.0 424.6 125.4C425.1 124.8 426.8 124.6 427.3 124.6C427.9 124.6 429.5 125.3 430.1 125.5C430.6 125.6 432.3 125.8 432.8 125.7C433.3 125.7 435.0 125.2 435.5 125.1C436.1 125.0 437.7 124.7 438.3 124.7C438.8 124.6 440.5 124.8 441.0 124.7C441.5 124.6 443.1 124.0 443.7 123.9C444.2 123.8 445.8 124.1 446.3 124.0C446.9 124.0 448.4 123.7 449.0 123.7C449.6 123.7 451.3 124.3 451.9 124.4C452.5 124.4 454.3 124.1 454.8 124.1C455.4 124.0 457.2 123.7 457.8 123.8C458.3 123.8 460.1 124.2 460.7 124.2C461.3 124.2 463.1 123.7 463.6 123.7C464.1 123.7 465.0 123.4 465.6 124.7C466.2 126.0 468.9 135.8 469.7 137.0C470.5 138.2 472.4 136.9 473.1 137.0C473.8 137.0 475.9 137.6 476.6 137.7C477.3 137.8 479.0 138.5 480.0 138.0C481.0 137.5 485.3 133.3 486.2 133.0C487.1 132.7 488.4 134.4 488.9 134.6C489.5 134.8 491.1 135.0 491.7 135.1C492.2 135.2 493.3 135.3 494.4 136.0C495.5 136.7 501.5 141.5 502.6 142.2C503.7 142.9 504.8 142.7 505.3 142.8C505.9 142.9 507.5 143.1 508.1 143.2C508.6 143.3 510.1 144.5 510.8 144.2C511.5 143.9 514.2 140.5 514.9 140.1C515.6 139.7 517.3 140.0 518.0 140.0C518.6 139.9 520.2 140.4 521.0 139.7C521.8 139.0 525.2 133.3 526.2 133.0C527.2 132.7 530.4 136.5 531.3 137.0C532.1 137.5 534.0 137.7 534.7 137.6C535.4 137.6 537.4 136.4 538.1 136.3C538.8 136.2 540.8 136.5 541.5 137.0C542.2 137.5 544.9 140.8 545.6 141.2C546.3 141.6 548.1 140.8 548.7 140.5C549.3 140.3 551.1 139.7 551.8 139.1C552.5 138.5 555.0 134.0 555.9 135.0C556.8 136.0 559.7 149.5 561.0 149.4C562.3 149.3 567.8 134.8 569.2 134.0C570.6 133.2 574.3 141.0 575.4 141.2C576.5 141.4 579.7 136.2 580.5 136.0C581.3 135.8 582.5 138.7 583.1 138.7C583.7 138.7 585.5 137.9 586.2 136.3C586.9 134.7 588.9 122.5 589.8 122.9C590.7 123.3 593.8 141.5 594.8 140.0C595.8 138.5 599.0 108.5 600.1 108.0C601.2 107.5 604.4 133.8 605.6 135.2C606.8 136.6 610.5 122.7 611.8 121.9C613.1 121.1 617.8 126.1 619.0 127.0C620.2 127.9 623.2 130.1 624.1 130.5C625.0 130.9 627.2 130.6 628.2 131.1C629.2 131.6 632.4 135.3 633.7 135.2C635.0 135.1 640.4 130.2 641.5 129.7C642.6 129.2 644.0 130.3 644.6 130.3C645.2 130.4 646.8 130.6 647.7 130.1C648.6 129.6 652.9 125.4 653.8 125.0C654.7 124.6 655.9 125.9 656.4 126.0C656.9 126.1 658.3 126.2 659.0 126.0C659.7 125.8 662.2 123.1 663.0 124.0C663.8 124.9 666.4 136.5 667.2 135.2C668.0 133.9 670.5 114.4 671.3 110.6C672.1 106.8 674.2 98.0 674.8 97.3C675.4 96.6 676.7 100.4 677.4 103.4C678.1 106.4 680.2 122.9 681.5 127.0C682.8 131.1 689.5 141.2 690.8 144.4C692.1 147.6 693.8 155.6 694.9 158.8C696.0 162.0 700.9 174.6 702.0 176.2C703.1 177.8 704.9 175.3 705.6 175.0C706.3 174.7 708.1 172.7 709.2 173.1C710.3 173.5 715.3 179.5 716.4 179.3C717.5 179.1 719.6 174.5 720.5 171.0C721.4 167.5 724.3 148.7 725.6 144.4C726.9 140.1 732.2 130.2 733.8 128.0C735.4 125.8 740.6 121.8 742.0 121.9C743.4 122.0 747.0 127.7 748.2 129.0C749.4 130.3 753.0 133.0 754.4 135.2C755.8 137.4 761.5 148.9 762.6 150.6C763.7 152.3 764.8 152.1 765.3 152.4C765.9 152.7 767.5 153.1 768.1 153.4C768.6 153.6 770.1 154.7 770.8 154.7C771.5 154.7 773.5 154.8 775.0 153.8C776.5 152.9 784.0 146.1 785.3 145.2C786.6 144.3 787.7 145.3 788.3 145.3C789.0 145.3 790.8 145.4 791.4 145.2C792.0 145.0 793.9 143.9 794.5 143.5C795.1 143.2 796.9 142.2 797.6 142.1C798.3 142.0 800.4 142.0 801.2 142.2C801.9 142.3 803.6 143.9 804.7 143.5C805.8 143.1 810.1 139.3 811.9 138.0C813.6 136.7 820.9 131.0 822.2 130.4C823.5 129.8 824.6 131.5 825.2 131.6C825.9 131.8 827.6 131.9 828.3 131.8C829.0 131.7 831.2 130.5 831.9 130.1C832.6 129.8 834.5 127.0 835.5 128.3C836.5 129.6 840.6 142.2 841.7 143.5C842.8 144.8 846.0 141.2 846.8 141.1C847.6 141.0 849.0 141.9 849.5 142.2C850.1 142.5 851.7 143.8 852.3 144.1C852.8 144.4 854.2 145.8 855.0 145.6C855.8 145.4 859.0 141.8 860.1 142.1C861.2 142.4 865.1 148.5 866.3 148.3C867.5 148.1 871.5 141.0 872.4 140.0C873.3 139.0 874.7 138.9 875.3 138.6C875.9 138.3 877.6 137.3 878.2 137.0C878.7 136.7 880.5 135.8 881.0 135.5C881.6 135.3 883.3 134.6 883.9 134.4C884.5 134.1 886.2 132.9 886.8 132.9C887.4 132.9 889.7 134.3 890.4 134.6C891.1 134.9 892.4 137.0 894.0 136.0C895.6 135.0 904.2 123.1 906.3 124.2C908.3 125.3 913.1 145.6 914.5 147.2C915.9 148.8 919.7 140.7 920.6 140.0C921.5 139.3 923.1 140.4 923.7 140.4C924.3 140.5 926.2 140.5 926.8 140.5C927.4 140.5 929.3 140.1 929.9 140.2C930.5 140.2 932.4 141.1 933.0 141.1C933.6 141.1 935.2 140.1 935.7 139.9C936.3 139.7 937.9 139.1 938.5 139.0C939.0 138.9 940.6 138.5 941.2 138.6C941.8 138.7 943.6 139.7 944.2 140.0C944.9 140.2 946.6 141.2 947.3 141.1C948.0 141.0 950.1 137.9 951.4 138.6C952.7 139.3 959.2 147.8 960.6 148.3C962.0 148.9 964.8 144.1 965.8 144.1C966.8 144.1 970.4 147.9 970.9 148.3" fill="none" stroke="#0f60e4" stroke-width="3.4" stroke-linejoin="round" stroke-linecap="round"/>
<path d="M59.1 273.6C59.6 273.9 63.4 276.2 64.2 276.7C65.0 277.2 66.3 278.0 66.8 278.1C67.3 278.3 68.6 278.5 69.4 278.3C70.2 278.1 73.6 276.3 74.5 276.3C75.4 276.3 77.4 278.3 78.1 278.6C78.8 279.0 81.0 279.8 81.7 279.7C82.4 279.6 84.1 277.7 84.8 277.4C85.4 277.0 87.2 276.4 87.8 276.3C88.4 276.2 90.5 275.9 91.2 276.0C91.9 276.1 94.0 277.2 94.7 277.3C95.4 277.4 97.1 276.5 98.1 277.1C99.1 277.7 103.3 282.7 104.2 283.2C105.1 283.7 106.3 282.4 106.8 282.1C107.3 281.9 108.6 280.3 109.4 280.4C110.2 280.5 113.3 282.0 114.5 282.8C115.7 283.6 120.6 287.9 121.7 288.0C122.8 288.1 125.0 284.9 125.8 283.8C126.6 282.7 128.9 276.7 129.9 276.7C130.9 276.7 135.1 283.1 136.0 283.8C136.9 284.5 138.2 283.8 138.7 283.7C139.3 283.6 140.9 283.0 141.5 282.9C142.0 282.8 143.4 282.1 144.2 282.8C145.0 283.5 148.3 288.9 149.4 290.0C150.5 291.1 153.9 291.6 155.5 294.1C157.1 296.6 164.5 312.6 165.8 314.6C167.1 316.6 168.0 313.9 168.5 313.7C169.1 313.5 170.7 312.9 171.3 312.7C171.8 312.5 173.4 311.5 174.0 311.5C174.6 311.5 176.4 312.9 177.1 313.2C177.7 313.5 179.0 315.0 180.1 314.6C181.2 314.2 187.2 310.1 188.3 309.5C189.4 308.9 190.6 308.8 191.2 308.7C191.8 308.6 193.5 308.8 194.1 308.7C194.6 308.7 196.4 308.4 196.9 308.3C197.5 308.3 199.2 308.5 199.8 308.5C200.4 308.4 202.1 307.9 202.7 307.8C203.3 307.7 205.2 307.9 205.8 307.9C206.4 307.8 208.2 307.4 208.8 307.2C209.5 307.0 211.3 306.2 211.9 306.1C212.5 305.9 214.4 305.6 215.0 305.4C215.6 305.2 217.2 304.7 217.7 304.5C218.3 304.3 219.9 303.6 220.5 303.4C221.0 303.1 222.7 302.4 223.2 302.2C223.7 302.0 225.4 301.4 225.9 301.3C226.5 301.2 228.1 301.2 228.7 301.1C229.2 301.0 230.8 300.5 231.4 300.3C232.0 300.1 233.7 299.6 234.3 299.5C234.9 299.4 236.6 299.1 237.2 299.1C237.7 299.0 239.5 299.3 240.0 299.2C240.6 299.1 242.3 298.3 242.9 298.2C243.5 298.0 245.0 297.2 245.8 297.6C246.6 298.0 249.7 302.3 250.9 302.3C252.1 302.3 257.2 298.0 258.2 297.7C259.2 297.4 260.7 298.6 261.3 298.8C261.9 299.0 263.7 299.2 264.3 299.4C264.9 299.6 266.8 300.8 267.4 300.8C268.0 300.8 269.9 299.3 270.5 299.1C271.1 298.9 273.0 298.6 273.6 298.5C274.2 298.3 276.0 297.7 276.7 297.7C277.4 297.7 279.5 298.4 280.2 298.7C281.0 299.1 283.2 300.6 283.8 300.8C284.4 301.0 286.1 300.9 286.6 301.1C287.2 301.2 288.9 301.9 289.5 302.0C290.0 302.1 291.7 301.8 292.3 301.8C292.8 301.8 294.0 302.3 295.1 301.8C296.2 301.3 302.1 297.3 303.3 296.7C304.5 296.1 306.0 296.2 306.7 296.3C307.4 296.3 309.5 297.2 310.2 297.3C310.9 297.3 313.0 296.7 313.6 296.7C314.2 296.7 315.8 297.5 316.3 297.6C316.9 297.8 318.5 298.0 319.1 298.1C319.6 298.2 321.2 298.1 321.8 298.3C322.4 298.5 324.3 300.0 324.9 300.4C325.5 300.7 327.3 301.4 327.9 301.7C328.5 301.9 330.2 303.2 331.0 302.8C331.8 302.4 335.4 298.2 336.2 297.7C337.0 297.2 338.4 298.0 338.9 297.9C339.5 297.8 341.1 297.2 341.7 297.1C342.2 297.0 343.3 296.6 344.4 297.1C345.5 297.6 351.5 301.9 352.6 302.4C353.7 302.9 354.8 302.0 355.3 301.8C355.9 301.7 357.5 300.9 358.1 300.6C358.6 300.3 359.9 298.5 360.8 298.7C361.7 298.9 365.5 303.0 366.9 302.8C368.3 302.6 374.0 296.9 375.1 296.3C376.2 295.7 377.3 296.4 377.8 296.6C378.4 296.8 380.0 298.0 380.6 298.3C381.1 298.5 382.8 298.5 383.3 298.7C383.8 298.9 385.5 300.1 386.0 300.4C386.6 300.6 388.2 301.1 388.8 301.4C389.3 301.6 390.6 303.3 391.5 302.8C392.4 302.3 396.6 297.3 397.7 296.7C398.8 296.1 401.9 295.2 402.8 296.3C403.7 297.4 406.1 306.8 406.9 308.0C407.7 309.2 409.8 308.0 410.5 308.0C411.2 308.0 413.4 308.1 414.1 308.0C414.8 307.9 416.8 306.8 417.5 306.6C418.2 306.4 420.3 306.1 421.0 305.8C421.7 305.5 423.7 304.1 424.4 303.8C425.1 303.5 427.1 303.0 427.8 302.8C428.5 302.6 430.5 302.5 431.2 302.3C431.9 302.1 434.0 301.0 434.6 300.8C435.2 300.6 436.8 300.2 437.3 300.2C437.9 300.2 439.5 300.7 440.1 300.6C440.6 300.5 442.2 299.7 442.8 299.7C443.4 299.7 445.7 300.2 446.4 300.2C447.1 300.1 449.4 299.5 450.0 299.5C450.6 299.5 452.2 300.0 452.7 300.2C453.3 300.3 454.9 300.9 455.5 301.1C456.0 301.2 457.6 301.7 458.2 301.7C458.8 301.7 460.9 301.1 461.6 300.8C462.3 300.5 464.4 299.4 465.1 299.0C465.8 298.7 467.8 297.3 468.5 297.2C469.2 297.1 471.2 297.9 471.9 298.0C472.6 298.1 474.6 298.3 475.3 298.5C476.0 298.6 477.8 299.8 478.7 299.7C479.6 299.6 482.7 297.0 483.8 297.2C484.9 297.4 489.1 301.8 490.0 302.1C490.9 302.4 492.5 300.5 493.1 300.1C493.7 299.8 495.5 298.6 496.2 298.6C496.9 298.6 499.0 300.1 499.8 300.4C500.5 300.7 502.0 302.1 503.3 301.7C504.6 301.3 511.4 296.5 512.6 296.0C513.8 295.5 514.8 296.2 515.3 296.4C515.9 296.6 517.5 298.1 518.1 298.3C518.6 298.5 520.2 298.6 520.8 298.6C521.4 298.6 523.3 298.5 523.9 298.6C524.5 298.7 526.3 299.7 526.9 299.8C527.5 299.9 529.4 299.5 530.0 299.5C530.6 299.5 532.5 299.5 533.1 299.6C533.7 299.7 535.6 300.0 536.2 300.2C536.8 300.4 538.6 301.8 539.2 302.0C539.9 302.3 541.7 302.1 542.3 302.6C542.9 303.1 544.3 308.3 545.4 306.9C546.5 305.5 551.9 287.5 553.4 288.5C554.9 289.5 559.6 317.0 560.8 316.8C562.0 316.6 564.7 288.0 565.7 286.6C566.7 285.2 569.7 302.0 570.6 303.2C571.5 304.4 574.0 298.7 574.9 298.9C575.8 299.1 578.0 305.8 579.2 305.1C580.4 304.4 585.5 293.7 586.6 292.2C587.7 290.7 589.6 291.2 590.3 290.3C591.0 289.4 593.2 282.3 594.0 283.5C594.8 284.7 597.3 301.3 598.3 302.0C599.3 302.7 602.8 290.4 603.8 290.9C604.8 291.4 607.8 306.1 608.8 306.9C609.8 307.7 612.8 299.2 613.7 298.9C614.6 298.6 616.5 304.3 617.4 303.8C618.3 303.3 621.2 294.4 622.3 294.0C623.4 293.6 627.6 299.7 628.5 300.2C629.4 300.7 630.8 299.7 631.4 299.5C631.9 299.2 633.7 298.4 634.2 298.1C634.8 297.9 636.5 297.1 637.1 297.1C637.7 297.1 639.8 298.1 640.5 298.3C641.1 298.6 642.8 300.1 643.8 299.5C644.8 298.9 648.9 292.6 650.0 292.2C651.1 291.8 653.5 295.3 654.4 295.6C655.2 295.9 657.7 295.4 658.5 295.2C659.3 295.0 661.9 296.4 662.6 293.6C663.3 290.8 665.1 272.0 665.6 266.9C666.1 261.8 667.3 243.7 667.7 242.3C668.1 240.9 669.3 250.5 669.7 252.6C670.1 254.7 671.4 262.5 671.8 262.8C672.2 263.1 673.3 254.8 673.8 255.6C674.3 256.4 676.3 267.2 676.9 271.0C677.5 274.8 679.2 290.8 680.0 293.6C680.8 296.4 683.0 293.4 685.1 298.7C687.2 304.0 699.0 342.8 701.5 346.9C704.0 351.0 708.5 340.2 709.7 339.7C710.9 339.2 712.6 341.6 713.3 342.0C714.0 342.4 716.0 345.4 716.9 343.8C717.8 342.2 720.7 330.8 722.0 326.4C723.3 322.0 728.9 303.6 730.3 299.7C731.7 295.8 735.2 289.2 736.4 287.4C737.6 285.6 741.2 280.8 742.6 281.3C744.0 281.8 749.7 291.3 750.8 292.5C751.9 293.7 753.2 293.1 753.8 293.2C754.5 293.3 756.0 292.2 756.9 293.6C757.8 295.0 761.7 304.8 763.1 306.9C764.5 309.0 770.1 313.8 771.3 314.5C772.5 315.2 774.7 314.0 775.4 313.7C776.1 313.4 777.6 312.3 778.1 312.0C778.7 311.6 780.3 310.6 780.9 310.4C781.4 310.1 783.0 309.4 783.6 309.3C784.2 309.2 786.0 309.1 786.6 309.1C787.2 309.0 789.0 308.9 789.6 308.8C790.2 308.7 791.8 308.5 792.3 308.2C792.9 308.0 794.5 306.9 795.1 306.6C795.6 306.3 797.2 305.4 797.8 305.3C798.4 305.2 800.4 305.3 801.1 305.5C801.8 305.6 803.1 307.7 804.4 306.8C805.7 305.9 812.7 297.6 814.0 296.4C815.3 295.2 816.7 295.2 817.4 294.8C818.1 294.4 820.1 293.1 820.8 292.6C821.5 292.2 823.6 290.6 824.2 290.3C824.9 290.0 826.7 289.8 827.3 289.5C827.9 289.2 829.8 287.5 830.4 287.1C831.0 286.8 832.3 285.2 833.5 286.2C834.7 287.2 841.2 296.6 842.7 297.4C844.2 298.1 847.9 294.0 848.8 293.7C849.7 293.4 851.0 294.3 851.6 294.3C852.1 294.3 853.8 293.5 854.3 293.5C854.9 293.6 856.0 293.2 857.1 294.4C858.2 295.6 863.7 305.5 865.3 305.6C866.9 305.7 872.4 296.5 873.5 295.4C874.6 294.3 876.0 294.8 876.6 294.6C877.2 294.4 879.0 293.3 879.6 293.0C880.3 292.8 882.1 292.1 882.7 291.9C883.3 291.8 885.2 291.4 885.8 291.3C886.4 291.2 888.3 291.3 888.9 291.1C889.5 290.8 891.3 289.4 892.0 289.2C892.6 289.0 894.4 289.1 895.0 289.0C895.6 288.9 897.0 289.4 898.1 288.2C899.2 287.0 904.7 276.3 906.3 277.3C907.9 278.3 913.3 296.4 914.5 298.5C915.7 300.6 917.2 298.3 917.9 298.1C918.6 297.9 920.6 296.6 921.3 296.3C922.0 296.1 924.1 295.8 924.7 295.8C925.3 295.8 926.9 296.4 927.5 296.8C928.0 297.1 929.7 298.8 930.2 299.1C930.8 299.4 932.5 299.8 933.0 299.9C933.5 300.0 935.2 299.8 935.7 299.8C936.3 299.8 937.9 300.2 938.5 300.2C939.0 300.2 940.5 299.7 941.2 299.9C941.9 300.1 944.5 302.9 945.3 302.6C946.1 302.4 948.1 297.0 949.4 297.4C950.7 297.8 957.0 306.3 958.6 306.7C960.2 307.1 964.6 301.2 965.8 301.5C967.0 301.8 970.4 308.5 970.9 309.3" fill="none" stroke="#f0202a" stroke-width="3.4" stroke-linejoin="round" stroke-linecap="round"/>
<path d="M59.1 411.4C59.4 411.5 61.3 411.9 61.8 412.1C62.4 412.3 64.0 413.3 64.6 413.5C65.1 413.8 66.7 414.5 67.3 414.5C67.9 414.5 69.8 414.1 70.4 414.0C71.0 414.0 72.9 413.8 73.5 413.9C74.1 414.0 75.7 414.6 76.2 414.7C76.8 414.9 78.4 415.3 79.0 415.4C79.5 415.5 81.1 415.8 81.7 415.9C82.3 416.0 84.4 416.1 85.1 416.2C85.8 416.3 87.8 416.8 88.5 417.0C89.2 417.3 90.8 417.9 91.9 418.6C93.0 419.3 97.7 423.7 99.1 423.7C100.5 423.7 105.1 419.1 106.3 418.6C107.5 418.1 110.4 419.0 111.4 418.6C112.4 418.2 115.7 415.4 116.5 415.1C117.3 414.8 118.6 415.7 119.1 415.8C119.6 415.8 120.9 415.0 121.7 415.5C122.5 416.0 125.8 419.3 126.8 420.6C127.8 421.9 130.7 428.5 131.9 428.8C133.1 429.1 138.1 424.2 139.1 423.7C140.1 423.2 141.6 423.8 142.2 423.9C142.8 424.0 144.3 424.0 145.3 424.7C146.3 425.4 151.1 429.2 152.4 430.9C153.7 432.6 157.7 442.4 158.6 441.8C159.5 441.2 161.0 426.4 161.7 424.7C162.4 423.0 164.7 424.0 165.8 424.7C166.9 425.4 171.7 430.2 172.9 431.9C174.1 433.6 177.5 442.1 178.1 441.8C178.7 441.5 178.7 430.0 179.1 428.8C179.5 427.6 181.8 429.5 182.5 429.8C183.2 430.1 185.3 431.9 186.0 432.2C186.7 432.5 188.1 433.4 189.4 432.9C190.7 432.4 197.4 427.3 198.6 426.8C199.8 426.3 200.8 427.5 201.3 427.8C201.9 428.0 203.5 429.1 204.1 429.3C204.6 429.5 206.2 429.9 206.8 429.9C207.4 429.9 209.5 429.6 210.2 429.5C210.9 429.4 212.9 429.4 213.6 429.4C214.3 429.3 216.3 428.8 217.0 428.8C217.7 428.8 219.5 429.6 220.1 429.9C220.7 430.2 222.6 431.7 223.2 431.9C223.8 432.1 225.4 432.0 225.9 432.1C226.5 432.1 228.1 432.4 228.7 432.4C229.2 432.4 230.9 432.0 231.4 431.9C231.9 431.9 233.6 432.2 234.1 432.2C234.7 432.3 236.3 432.2 236.9 432.1C237.4 432.1 239.1 432.0 239.6 431.9C240.1 431.8 241.7 431.0 242.2 431.0C242.7 431.0 244.3 431.7 244.8 431.7C245.3 431.7 246.9 431.3 247.4 431.2C247.9 431.1 249.5 430.8 250.0 430.8C250.5 430.8 252.2 431.0 252.7 431.1C253.3 431.1 254.9 431.1 255.5 431.2C256.0 431.3 257.6 432.1 258.2 432.4C258.8 432.7 260.7 433.9 261.3 434.2C261.9 434.4 263.8 434.9 264.4 434.9C265.0 434.9 266.8 434.0 267.4 433.8C268.1 433.6 269.9 432.7 270.5 432.8C271.1 432.9 272.7 434.1 273.2 434.5C273.8 434.8 275.4 435.8 276.0 436.1C276.5 436.3 278.1 436.7 278.7 436.9C279.3 437.1 281.6 437.6 282.3 437.7C283.0 437.8 285.0 437.8 285.9 437.9C286.8 438.0 289.9 438.5 291.0 439.0C292.1 439.5 296.0 442.2 297.2 443.1C298.4 444.0 302.2 447.9 303.3 448.2C304.4 448.5 307.9 444.8 308.5 446.2C309.1 447.6 309.0 461.5 309.5 462.6C310.0 463.7 312.8 458.1 313.6 457.4C314.4 456.7 316.5 456.3 317.2 455.9C317.9 455.5 320.1 453.7 320.8 453.3C321.5 452.9 323.7 452.0 324.4 451.7C325.1 451.4 327.3 450.5 328.0 450.3C328.7 450.1 330.7 450.2 331.4 450.0C332.1 449.9 334.1 449.0 334.8 448.8C335.5 448.6 337.5 448.3 338.2 448.2C338.9 448.1 341.1 448.0 341.8 447.8C342.5 447.6 344.7 446.2 345.4 446.2C346.1 446.2 347.8 447.9 348.4 448.2C349.1 448.5 350.5 449.8 351.5 449.2C352.5 448.6 357.7 443.0 358.7 442.1C359.7 441.2 361.2 440.3 361.8 440.0C362.4 439.7 364.3 439.1 364.9 439.0C365.5 438.9 367.3 438.9 367.9 439.0C368.6 439.1 370.1 440.3 371.0 440.0C371.9 439.7 376.3 436.4 377.2 435.9C378.1 435.4 379.4 434.7 379.9 434.6C380.5 434.5 382.1 434.9 382.7 434.8C383.2 434.6 384.9 433.3 385.4 433.2C385.9 433.1 387.6 433.3 388.1 433.3C388.7 433.4 390.3 433.7 390.9 433.8C391.4 433.8 393.1 433.9 393.6 433.8C394.1 433.7 395.8 432.8 396.3 432.7C396.9 432.5 398.5 432.2 399.1 432.1C399.6 431.9 401.2 431.3 401.8 431.2C402.4 431.1 404.5 431.4 405.2 431.4C405.9 431.5 407.9 431.7 408.6 431.8C409.3 431.9 411.4 432.4 412.0 432.4C412.6 432.4 414.5 432.0 415.1 431.9C415.7 431.8 417.6 431.3 418.2 431.2C418.8 431.1 420.5 431.3 421.1 431.3C421.7 431.4 423.4 431.8 424.0 431.8C424.5 431.8 426.3 431.5 426.8 431.5C427.4 431.5 429.1 431.8 429.7 431.8C430.3 431.8 431.8 431.5 432.6 431.2C433.4 430.9 436.7 428.8 437.7 428.7C438.7 428.6 441.9 430.3 442.8 430.4C443.7 430.5 445.7 430.1 446.4 429.9C447.1 429.8 449.3 428.8 450.0 428.5C450.7 428.2 452.4 426.6 453.1 426.5C453.8 426.4 456.0 427.8 456.7 427.9C457.4 428.1 459.4 427.5 460.3 428.0C461.2 428.5 464.6 432.7 465.4 433.1C466.2 433.5 467.9 432.3 468.5 432.0C469.1 431.7 470.9 430.2 471.5 429.9C472.1 429.6 474.0 429.0 474.6 429.0C475.2 429.0 477.1 430.1 477.7 430.3C478.3 430.5 480.2 430.7 480.8 430.6C481.4 430.5 483.2 429.9 483.9 429.6C484.5 429.3 486.3 427.5 486.9 427.3C487.5 427.1 489.4 428.0 490.0 428.1C490.6 428.2 492.5 427.9 493.1 427.9C493.7 427.9 495.3 426.5 496.2 428.0C497.1 429.5 501.4 441.7 502.3 443.3C503.2 444.9 504.5 444.1 505.0 444.2C505.6 444.2 507.2 443.9 507.8 444.0C508.3 444.1 509.7 446.0 510.5 445.0C511.3 444.0 514.7 435.0 515.6 434.1C516.5 433.2 518.5 436.0 519.2 436.3C519.9 436.7 521.9 438.0 522.8 437.6C523.7 437.2 527.2 433.2 528.0 432.7C528.8 432.2 530.4 432.5 531.0 432.5C531.7 432.4 533.2 431.4 534.1 432.0C535.0 432.6 539.1 438.7 540.3 438.8C541.5 438.9 545.4 434.7 546.4 433.1C547.4 431.5 549.6 424.2 550.5 422.8C551.4 421.4 554.5 418.2 555.6 418.7C556.7 419.2 560.7 426.6 561.8 427.9C562.9 429.2 566.0 432.1 566.9 432.0C567.8 431.9 570.1 426.5 571.0 426.5C571.9 426.5 575.4 431.9 576.2 432.0C577.0 432.1 578.4 427.5 579.2 427.9C580.0 428.3 583.4 436.9 584.4 436.2C585.4 435.5 588.6 421.8 589.5 420.8C590.4 419.8 592.9 427.0 593.6 425.9C594.3 424.8 596.0 409.6 596.7 409.5C597.4 409.4 600.1 422.8 600.8 424.9C601.5 426.9 603.2 427.5 603.8 430.0C604.4 432.5 606.1 449.4 606.9 449.5C607.7 449.6 610.8 431.6 612.0 431.0C613.2 430.4 618.0 442.8 619.2 443.3C620.4 443.8 623.3 437.9 624.4 436.2C625.5 434.5 629.6 427.4 630.5 426.5C631.4 425.6 632.8 426.8 633.3 426.8C633.9 426.9 635.6 426.9 636.1 427.1C636.7 427.3 638.4 428.7 639.0 428.9C639.5 429.1 641.1 428.6 641.8 429.0C642.5 429.4 645.2 432.9 646.2 432.7C647.2 432.4 650.3 426.8 651.3 426.5C652.3 426.2 655.6 429.1 656.4 429.4C657.2 429.7 658.9 429.2 659.5 429.0C660.1 428.8 661.5 428.6 662.6 427.3C663.7 426.0 669.4 416.2 670.8 415.6C672.2 415.0 675.5 417.8 676.9 420.8C678.3 423.8 683.7 441.1 685.1 445.4C686.5 449.7 689.9 459.3 691.3 463.8C692.7 468.3 697.9 488.3 699.5 490.5C701.1 492.7 706.0 485.2 707.7 485.4C709.4 485.6 714.9 495.6 716.9 492.6C718.9 489.6 725.8 460.8 728.2 455.6C730.6 450.4 738.5 441.3 740.5 440.3C742.5 439.3 747.5 445.2 748.7 445.4C749.9 445.6 751.6 443.2 752.3 442.8C753.0 442.4 754.8 440.7 755.9 441.3C757.0 441.9 761.9 448.3 763.1 448.5C764.3 448.7 767.4 444.3 768.2 443.7C769.1 443.1 770.9 442.8 771.6 442.5C772.3 442.2 774.4 440.9 775.0 440.5C775.6 440.1 777.2 439.3 777.8 439.0C778.4 438.6 780.0 437.5 780.6 437.2C781.2 436.9 782.8 436.3 783.4 436.3C784.0 436.3 786.3 436.9 787.0 437.1C787.7 437.3 789.5 438.8 790.6 438.4C791.7 438.0 796.8 433.6 797.8 433.2C798.8 432.8 800.4 434.2 801.1 434.4C801.8 434.5 803.1 435.5 804.4 434.8C805.7 434.1 812.9 428.1 814.2 427.3C815.5 426.5 816.7 427.3 817.3 427.1C817.9 426.9 819.7 425.3 820.4 425.2C821.0 425.0 822.8 425.3 823.4 425.2C824.0 425.1 825.9 424.5 826.5 424.3C827.1 424.1 828.8 423.6 829.4 423.7C830.0 423.7 831.8 424.5 832.4 424.6C833.0 424.7 834.3 422.7 835.3 424.3C836.3 425.9 841.2 439.9 842.7 440.5C844.2 441.1 848.9 431.4 849.9 430.3C850.9 429.2 852.4 429.5 853.0 429.4C853.6 429.3 855.4 429.5 856.0 429.4C856.6 429.3 858.3 428.1 859.1 428.2C859.9 428.3 862.6 431.7 864.2 430.9C865.8 430.1 874.0 421.2 875.5 420.0C877.0 418.8 878.2 419.4 878.9 419.1C879.6 418.8 881.7 417.3 882.4 416.9C883.1 416.5 885.2 415.3 885.8 415.3C886.4 415.3 888.2 416.8 888.8 417.0C889.5 417.2 891.3 417.4 891.9 417.3C892.5 417.2 894.0 416.6 894.6 416.5C895.1 416.3 896.7 415.7 897.3 415.6C897.8 415.5 899.4 415.9 899.9 415.8C900.5 415.6 902.1 414.5 902.6 414.4C903.2 414.3 904.5 414.3 905.3 414.5C906.1 414.7 909.3 415.8 910.4 416.9C911.5 418.0 915.4 425.0 916.5 425.5C917.6 426.0 920.3 421.8 921.7 422.1C923.1 422.4 929.7 427.6 930.9 428.2C932.1 428.8 933.3 428.2 934.0 428.3C934.6 428.4 936.4 429.1 937.0 429.2C937.6 429.3 939.5 428.9 940.1 428.8C940.7 428.8 942.6 428.9 943.2 428.9C943.8 428.8 945.7 428.0 946.3 428.0C946.9 427.9 948.8 428.1 949.4 428.2C950.0 428.3 951.8 428.8 952.5 429.1C953.1 429.4 954.5 430.4 955.5 431.3C956.5 432.2 961.6 438.1 962.7 438.5C963.8 438.9 966.0 434.6 966.8 435.0C967.6 435.4 970.5 441.8 970.9 442.6" fill="none" stroke="#ff7a0a" stroke-width="3.4" stroke-linejoin="round" stroke-linecap="round"/>
</g>
<path d="M171.6 59.0L205.6 50.6L205.6 67.4Z" fill="#0000ff"/><rect x="204.6" y="56.199999999999996" width="187.4" height="4.4" fill="#0000ff"/>
<path d="M320.0 225.8L354.2 217.5L354.2 234.10000000000002Z" fill="#0000ff"/><rect x="353.2" y="223.20000000000002" width="44.60000000000002" height="4.4" fill="#0000ff"/>
<text transform="translate(34.41,660.60) scale(0.96,1.03)" font-size="24" letter-spacing="0.420" font-weight="bold">4000</text>
<text transform="translate(169.79,660.60) scale(0.96,1.03)" font-size="24" letter-spacing="0.562" font-weight="bold">3500</text>
<text transform="translate(305.56,660.60) scale(0.96,1.03)" font-size="24" letter-spacing="0.572" font-weight="bold">3000</text>
<text transform="translate(441.62,660.60) scale(0.96,1.03)" font-size="24" letter-spacing="0.578" font-weight="bold">2500</text>
<text transform="translate(577.43,660.60) scale(0.96,1.03)" font-size="24" letter-spacing="0.578" font-weight="bold">2000</text>
<text transform="translate(712.55,660.60) scale(0.96,1.03)" font-size="24" letter-spacing="0.813" font-weight="bold">1500</text>
<text transform="translate(848.58,660.60) scale(0.96,1.03)" font-size="24" letter-spacing="0.812" font-weight="bold">1000</text>
<text transform="translate(407.09,705.20) scale(1,1.03)" font-size="24" letter-spacing="-0.276" font-weight="bold">Wavenumber (cm<tspan dy="-9.3" font-size="15.5">-1</tspan><tspan dy="9.3">)</tspan></text>
<text transform="translate(21.00,416.30) rotate(-90) scale(1,1.03)" font-size="24" letter-spacing="-0.310" font-weight="bold">Transmittance (%)</text>
<text transform="translate(73.61,86.20) scale(1,1.0)" font-size="24" letter-spacing="0.130" font-weight="bold">(a)</text>
<text transform="translate(73.72,229.70) scale(1,1.0)" font-size="24" letter-spacing="-0.264" font-weight="bold">(b)</text>
<text transform="translate(73.29,399.70) scale(1,1.0)" font-size="24" letter-spacing="-0.384" font-weight="bold">(c)</text>
<text transform="translate(800.57,103.10) scale(1,1.04)" font-size="24" letter-spacing="-0.296">PMC Control</text>
<text transform="translate(804.50,269.50) scale(1,1.04)" font-size="24" letter-spacing="-0.562">PMC A</text>
<text transform="translate(807.16,401.80) scale(1,1.04)" font-size="24" letter-spacing="-0.287">PMC B</text>
<text transform="translate(409.08,63.20) scale(1,1.04)" font-size="24" letter-spacing="-0.289">O-H stretching</text>
<text transform="translate(441.10,92.60) scale(1,1.04)" font-size="24" letter-spacing="-0.370">vibration</text>
<text transform="translate(406.46,232.80) scale(1,1.04)" font-size="24" letter-spacing="-0.192">C-H stretching vibration</text>
<text transform="translate(406.63,261.00) scale(1,1.04)" font-size="24" letter-spacing="-0.192">presence of alkenes</text>
</svg>
</body></html>
